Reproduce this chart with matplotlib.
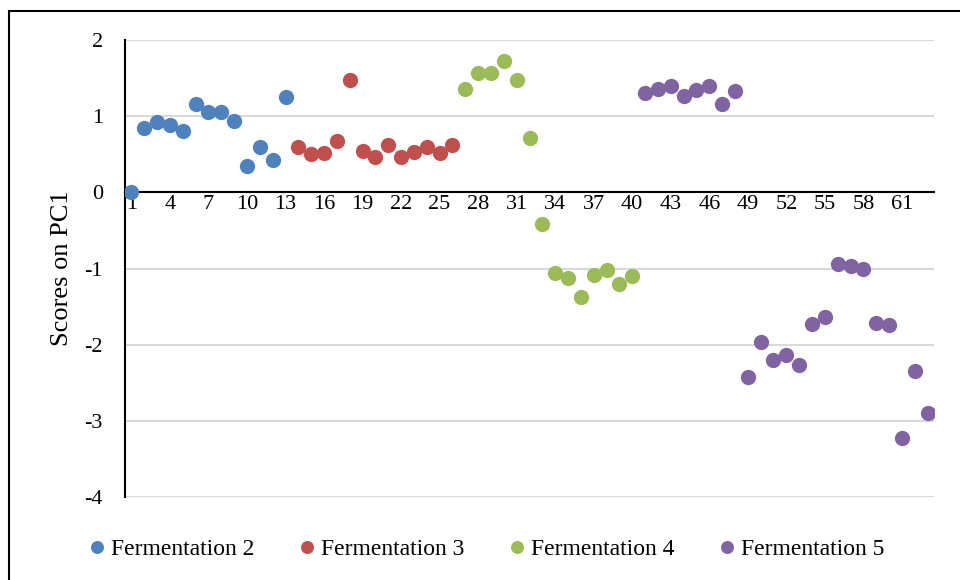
import matplotlib.pyplot as plt
from matplotlib.patches import Rectangle

plt.rcParams['font.family'] = ['Liberation Serif', 'DejaVu Serif']

# sample index and PC1 scores per fermentation
x_f2 = list(range(1, 14))
y_f2 = [0.0, 0.85, 0.92, 0.89, 0.80, 1.16, 1.06, 1.06, 0.93, 0.34, 0.59, 0.43, 1.25]
x_f3 = list(range(14, 27))
y_f3 = [0.59, 0.50, 0.51, 0.68, 1.47, 0.54, 0.47, 0.62, 0.46, 0.53, 0.60, 0.52, 0.62]
x_f4 = list(range(27, 41))
y_f4 = [1.36, 1.57, 1.57, 1.73, 1.47, 0.71, -0.42, -1.06, -1.12, -1.38, -1.08, -1.02, -1.20, -1.10]
x_f5 = list(range(41, 64))
y_f5 = [1.31, 1.36, 1.39, 1.27, 1.34, 1.40, 1.16, 1.33, -2.42, -1.97, -2.20, -2.13, -2.27,
        -1.73, -1.64, -0.94, -0.97, -1.00, -1.71, -1.74, -3.22, -2.35, -2.90]

labels = ['Fermentation 2', 'Fermentation 3', 'Fermentation 4', 'Fermentation 5']
colors = ['#4F81BD', '#C0504D', '#9BBB59', '#8064A2']
xticks = list(range(1, 64, 3))

fig = plt.figure(figsize=(9.6, 5.8), dpi=100)
ax = fig.add_axes([125/960, 1-497/580, (934-125)/960, (497-40)/580])

series = [(x_f2, y_f2), (x_f3, y_f3), (x_f4, y_f4), (x_f5, y_f5)]
for (xs, ys), lab, c in zip(series, labels, colors):
    ax.plot(xs, ys, 'o', color=c, markersize=11, markeredgewidth=0, label=lab, zorder=3)

ax.set_xlim(0.5, 63.5)
ax.set_ylim(-4, 2)
ax.set_yticks(range(-4, 3))
ax.set_yticklabels([str(v) for v in range(-4, 3)])
ax.set_xticks(xticks)
ax.set_xticklabels([str(v) for v in xticks])
ax.yaxis.grid(True, color='#D9D9D9', linewidth=1.5)
ax.set_axisbelow(True)
ax.spines['bottom'].set_position(('data', 0))
ax.spines['bottom'].set_linewidth(1.5)
ax.spines['left'].set_linewidth(1.5)
ax.spines['top'].set_visible(False)
ax.spines['right'].set_visible(False)
ax.tick_params(axis='both', length=0, labelsize=16)
ax.tick_params(axis='y', pad=16)
ax.tick_params(axis='x', pad=2)
ax.set_ylabel('Scores on PC1', fontsize=19)
ax.yaxis.set_label_coords(-52/809, 0.5)

fig.legend(loc='center', bbox_to_anchor=(0.504, 1-549/580), ncol=4, frameon=False,
           fontsize=17, handletextpad=0.0, columnspacing=1.62, markerscale=0.85,
           handlelength=1.2)

fig.patches.append(Rectangle((9/960, -0.1), 1.2, 1-11/580+0.1, transform=fig.transFigure,
                             fill=False, edgecolor='black', linewidth=1.5))

plt.savefig('out.png')
